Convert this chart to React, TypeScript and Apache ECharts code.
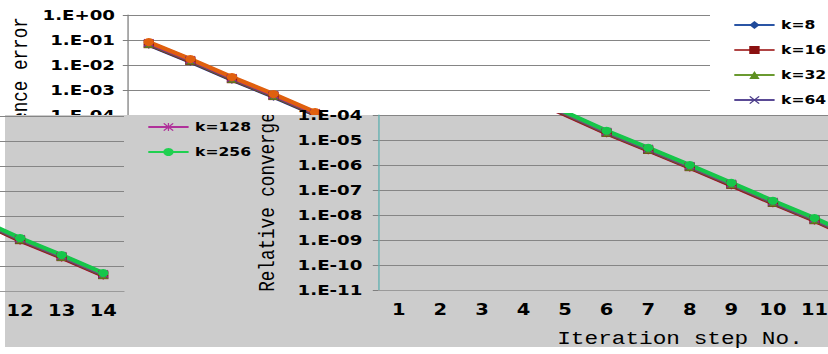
import React, { useEffect, useRef } from "react";
import * as echarts from "echarts";

// ---------- data ----------
const steps = ["1", "2", "3", "4", "5", "6", "7", "8", "9", "10", "11", "12", "13", "14"];
const seriesNames = ["k=8", "k=16", "k=32", "k=64", "k=128", "k=256"];
const k8 = [0.065, 0.0136, 0.00257, 5.4e-4, 1.03e-4, 1.83e-5, 3.8e-6, 7.8e-7, 1.52e-7, 2.89e-8, 5.9e-9, 1.03e-9, 2.15e-10, 4.1e-11];
const k16 = [0.068, 0.0143, 0.0027, 5.7e-4, 1.08e-4, 1.92e-5, 4.0e-6, 8.2e-7, 1.6e-7, 3.03e-8, 6.2e-9, 1.08e-9, 2.26e-10, 4.3e-11];
const k32 = [0.071, 0.015, 0.00284, 5.9e-4, 1.14e-4, 2.0e-5, 4.2e-6, 8.6e-7, 1.68e-7, 3.18e-8, 6.5e-9, 1.14e-9, 2.37e-10, 4.5e-11];
const k64 = [0.075, 0.0157, 0.00297, 6.2e-4, 1.19e-4, 2.1e-5, 4.4e-6, 9.0e-7, 1.76e-7, 3.33e-8, 6.8e-9, 1.19e-9, 2.48e-10, 4.7e-11];
const k128 = [0.078, 0.0164, 0.0031, 6.5e-4, 1.24e-4, 2.2e-5, 4.6e-6, 9.4e-7, 1.83e-7, 3.48e-8, 7.1e-9, 1.24e-9, 2.58e-10, 4.9e-11];
const k256 = [0.083, 0.0174, 0.0033, 6.9e-4, 1.32e-4, 2.34e-5, 4.9e-6, 1.0e-6, 1.95e-7, 3.7e-8, 7.6e-9, 1.32e-9, 2.75e-10, 5.25e-11];
const seriesValues = [k8, k16, k32, k64, k128, k256];
const yTickLabels = ["1.E+00", "1.E-01", "1.E-02", "1.E-03", "1.E-04", "1.E-05", "1.E-06", "1.E-07", "1.E-08", "1.E-09", "1.E-10", "1.E-11"];
const yTitle = "Relative convergence error";
const xTitle = "Iteration step No.";

// ---------- styles ----------
const topColors = ["#1F3C88", "#8B1A1A", "#5A8A1E", "#4B3482", "#A0307F", "#E0600E"];
const bottomColors = ["#B01040", "#8B1A1A", "#5A8A1E", "#4B3482", "#A0307F", "#16C64A"];
const legendColors = ["#1F4A9A", "#8B1111", "#5E9020", "#4B3C8A", "#B0309A", "#20D050"];
const legendLineColors = ["#2A55A5", "#B04545", "#6A9A30", "#5A4A95", "#B0309A", "#20D050"];
const xPath = "path://M0,1L1,0L10,9L9,10Z M9,0L10,1L1,10L0,9Z";
const starPath = "path://M0,1L1,0L10,9L9,10Z M9,0L10,1L1,10L0,9Z M4.4,0L5.6,0L5.6,10L4.4,10Z";
const symbols = ["diamond", "rect", "triangle", xPath, starPath, "circle"];

const S = 1.3; // horizontal stretch of the picture
const W = 828 / S;
const H = 354;
const plotLeft = 128 / S;
const plotWidth = 582 / S;
const shift = 250 / S;
const wrap = 836 / S;
const labelFont = "DejaVu Sans";
const monoFont = '"Liberation Mono", monospace';
const splitStep = 11; // steps 1..11 on the right piece, 12..14 wrapped to the left
const yTitleFont = `17.6px ${monoFont}`;
const yTitleCenter = 154.5;

function fmtLog(v: number) {
  const e = Math.round(Math.log10(v));
  return yTickLabels[-e] ?? "";
}

export default function App() {
  const ref = useRef<HTMLDivElement>(null);
  useEffect(() => {
    if (!ref.current) return;
    document.body.style.margin = "0";
    const chart = echarts.init(ref.current, undefined, { renderer: "svg" });

    const gridBase = { containLabel: false, outerBoundsMode: "none" };
    const grids = [
      { ...gridBase, left: plotLeft, top: 15, width: plotWidth, height: 100 },
      { ...gridBase, left: plotLeft + shift, top: 115, width: plotWidth, height: 175 },
      { ...gridBase, left: plotLeft + shift - wrap, top: 116, width: plotWidth, height: 175 },
      { ...gridBase, left: 0, top: 115, width: W, height: 232 },
    ];

    const yAxisBase = (min: number, max: number, split: number, margin: number, lineColor: string, z: number, showLabel: boolean) => ({
      type: "log",
      logBase: 10,
      min,
      max,
      splitNumber: split,
      z,
      axisLine: { show: true, lineStyle: { color: lineColor, width: 1 } },
      axisTick: { show: true, length: 4, lineStyle: { color: "#7f7f7f" } },
      axisLabel: { show: showLabel, formatter: fmtLog, margin, color: "#000", fontFamily: labelFont, fontWeight: "bold", fontSize: 14 },
      splitLine: { show: true, lineStyle: { color: "#858585", width: 1 } },
    });

    const xAxisBase = (gridIndex: number, show: boolean, z: number, labelInterval: (i: number) => boolean) => ({
      type: "category",
      gridIndex,
      data: steps,
      boundaryGap: true,
      show,
      z,
      axisLine: { show: true, lineStyle: { color: "#9a9a9a" } },
      axisTick: { show: false },
      axisLabel: { interval: labelInterval, color: "#000", fontFamily: labelFont, fontWeight: "bold", fontSize: 15, margin: 12 },
      splitLine: { show: false },
    });

    const series: any[] = [];
    [0, 1, 2].forEach((band) => {
      seriesNames.forEach((name, i) => {
        const c = band === 0 ? topColors[i] : bottomColors[i];
        series.push({
          name,
          type: "line",
          xAxisIndex: band,
          yAxisIndex: band,
          data: seriesValues[i],
          symbol: symbols[i],
          symbolSize: 8,
          clip: true,
          z: band === 0 ? 2 : 5,
          lineStyle: { color: c, width: 4 },
          itemStyle: { color: c, borderColor: c, borderWidth: 0 },
        });
      });
    });
    series.push({
      type: "custom",
      xAxisIndex: 3,
      yAxisIndex: 3,
      clip: true,
      silent: true,
      z: 6,
      data: [[0, 0]],
      renderItem: () => ({
        type: "text",
        x: 206,
        y: yTitleCenter,
        rotation: Math.PI / 2,
        style: {
          text: yTitle,
          font: yTitleFont,
          fill: "#000",
          align: "center",
          verticalAlign: "middle",
          textAlign: "center",
          textVerticalAlign: "middle",
        },
      }),
    });

    const legendItem = (i: number) => ({
      name: seriesNames[i],
      itemStyle: { color: legendColors[i], borderWidth: 0 },
      lineStyle: { color: legendLineColors[i], width: 2 },
    });
    const legendBase = {
      orient: "vertical",
      padding: 0,
      itemWidth: 31,
      itemHeight: 10,
      itemGap: 11,
      selectedMode: false,
      textStyle: { color: "#000", fontFamily: labelFont, fontWeight: "bold", fontSize: 12, lineHeight: 14 },
    };

    chart.setOption({
      animation: false,
      backgroundColor: "#ffffff",
      grid: grids,
      xAxis: [
        xAxisBase(0, false, 1, () => false),
        xAxisBase(1, true, 4, (i) => i < splitStep),
        xAxisBase(2, true, 4, (i) => i >= splitStep),
        { type: "value", gridIndex: 3, show: false, min: 0, max: 1 },
      ],
      yAxis: [
        { ...yAxisBase(1e-4, 1, 4, 10, "#808080", 1, true), gridIndex: 0 },
        { ...yAxisBase(1e-11, 1e-4, 7, 12, "#5fb0b0", 4, true), gridIndex: 1 },
        { ...yAxisBase(1e-11, 1e-4, 7, 12, "#5fb0b0", 4, false), gridIndex: 2 },
        { type: "value", gridIndex: 3, show: false, min: 0, max: 1 },
      ],
      legend: [
        { ...legendBase, left: 733 / S, top: 18, z: 2, data: [0, 1, 2, 3].map(legendItem) },
        { ...legendBase, left: 147 / S, top: 120, z: 6, data: [4, 5].map(legendItem) },
      ],
      graphic: [
        {
          type: "text",
          x: 16,
          y: yTitleCenter,
          rotation: Math.PI / 2,
          z: 1,
          silent: true,
          style: {
            text: yTitle,
            font: yTitleFont,
            fill: "#000",
            align: "center",
            verticalAlign: "middle",
            textAlign: "center",
            textVerticalAlign: "middle",
          },
        },
        {
          type: "rect",
          z: 3,
          silent: true,
          shape: { x: 5 / S, y: 115, width: W, height: 232 },
          style: { fill: "#cccccc" },
        },
        {
          type: "text",
          x: 680 / S,
          y: 339,
          z: 7,
          silent: true,
          style: {
            text: xTitle,
            font: `17.5px ${monoFont}`,
            fill: "#000",
            align: "center",
            verticalAlign: "middle",
            textAlign: "center",
            textVerticalAlign: "middle",
          },
        },
      ],
      series,
    });
    return () => chart.dispose();
  }, []);

  return (
    <div
      style={{
        position: "fixed",
        left: 0,
        top: 0,
        width: 828,
        height: H,
        overflow: "hidden",
        background: "#fff",
      }}
    >
      <div
        ref={ref}
        style={{
          width: W,
          height: H,
          transform: `scaleX(${S})`,
          transformOrigin: "0 0",
        }}
      />
    </div>
  );
}
